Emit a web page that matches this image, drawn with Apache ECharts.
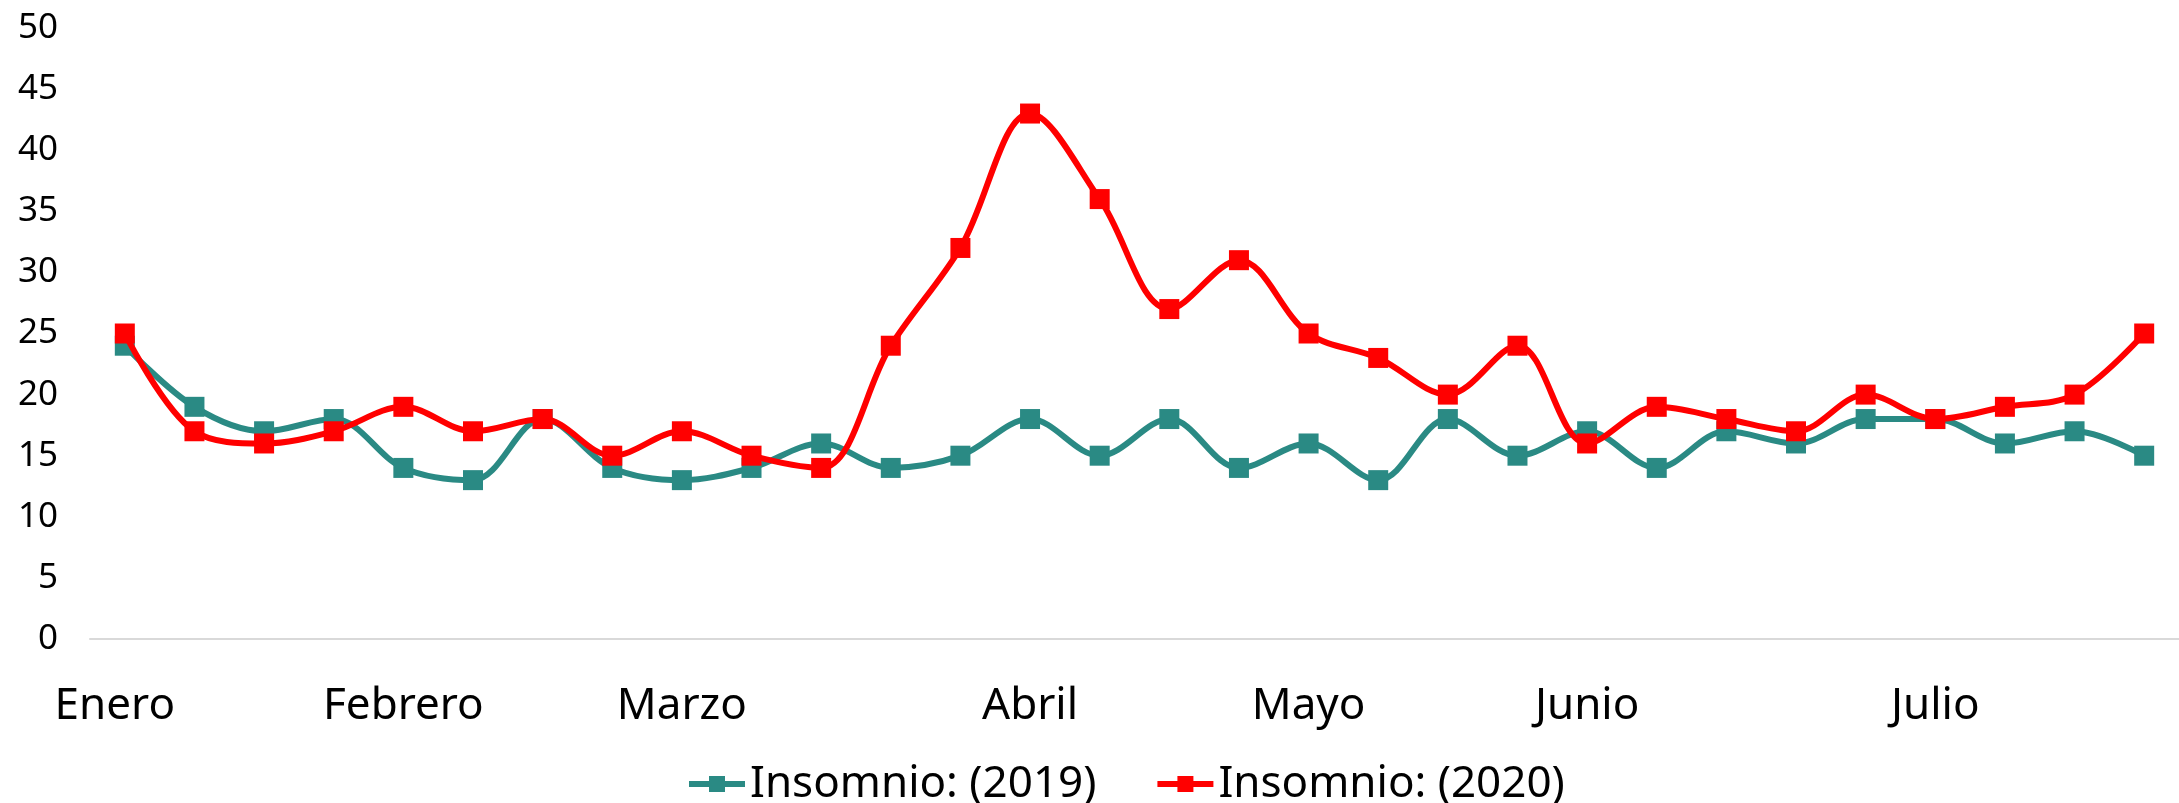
<!DOCTYPE html>
<html>
<head>
<meta charset="utf-8">
<script src="https://cdn.jsdelivr.net/npm/echarts@6/dist/echarts.min.js"></script>
<style>
  html, body { margin: 0; padding: 0; background: #fff; }
  #chart { width: 2179px; height: 803px; }
</style>
</head>
<body>
<div id="chart"></div>
<script>
// weekly points, month name on the first week of each month
const weeks = [
  'Enero', '', '', '', 'Febrero', '', '', '', 'Marzo', '', '', '', '',
  'Abril', '', '', '', 'Mayo', '', '', '', 'Junio', '', '', '', '',
  'Julio', '', '', ''
]
const insomnio2019 = [24, 19, 17, 18, 14, 13, 18, 14, 13, 14, 16, 14, 15, 18, 15, 18, 14, 16, 13, 18, 15, 17, 14, 17, 16, 18, 18, 16, 17, 15]
const insomnio2020 = [25, 17, 16, 17, 19, 17, 18, 15, 17, 15, 14, 24, 32, 43, 36, 27, 31, 25, 23, 20, 24, 16, 19, 18, 17, 20, 18, 19, 20, 25]

const font = 'Noto Sans'
const chart = echarts.init(document.getElementById('chart'))

const line = (name, data, color) => ({
  name,
  type: 'line',
  data,
  smooth: 0.35,
  symbol: 'rect',
  symbolSize: 20,
  lineStyle: { color, width: 6 },
  itemStyle: { color },
  z: name.includes('2020') ? 3 : 2
})

chart.setOption({
  animation: false,
  grid: { left: 90, right: 0, top: 28, bottom: 164 },
  legend: {
    left: 681,
    top: 757,
    itemWidth: 56,
    itemHeight: 20,
    itemGap: 58,
    lineStyle: { width: 6 },
    textStyle: { fontFamily: font, fontSize: 44, color: '#000' },
    data: ['Insomnio: (2019)', 'Insomnio: (2020)']
  },
  xAxis: {
    type: 'category',
    data: weeks,
    boundaryGap: true,
    axisLine: { lineStyle: { color: '#d9d9d9', width: 2 } },
    axisTick: { show: false },
    axisLabel: {
      interval: 0,
      margin: 45,
      fontFamily: font,
      fontSize: 44,
      color: '#000',
      formatter: v => v === 'Enero' ? '{first|' + v + '}' : v,
      rich: {
        first: { fontFamily: font, fontSize: 44, color: '#000', padding: [0, 20, 0, 0] }
      }
    }
  },
  yAxis: {
    type: 'value',
    min: 0,
    max: 50,
    interval: 5,
    axisLine: { show: false },
    axisTick: { show: false },
    splitLine: { show: false },
    axisLabel: {
      margin: 32,
      fontFamily: font,
      fontSize: 35,
      color: '#000'
    }
  },
  series: [
    line('Insomnio: (2019)', insomnio2019, '#2a8a84'),
    line('Insomnio: (2020)', insomnio2020, '#ff0000')
  ]
})
</script>
</body>
</html>
